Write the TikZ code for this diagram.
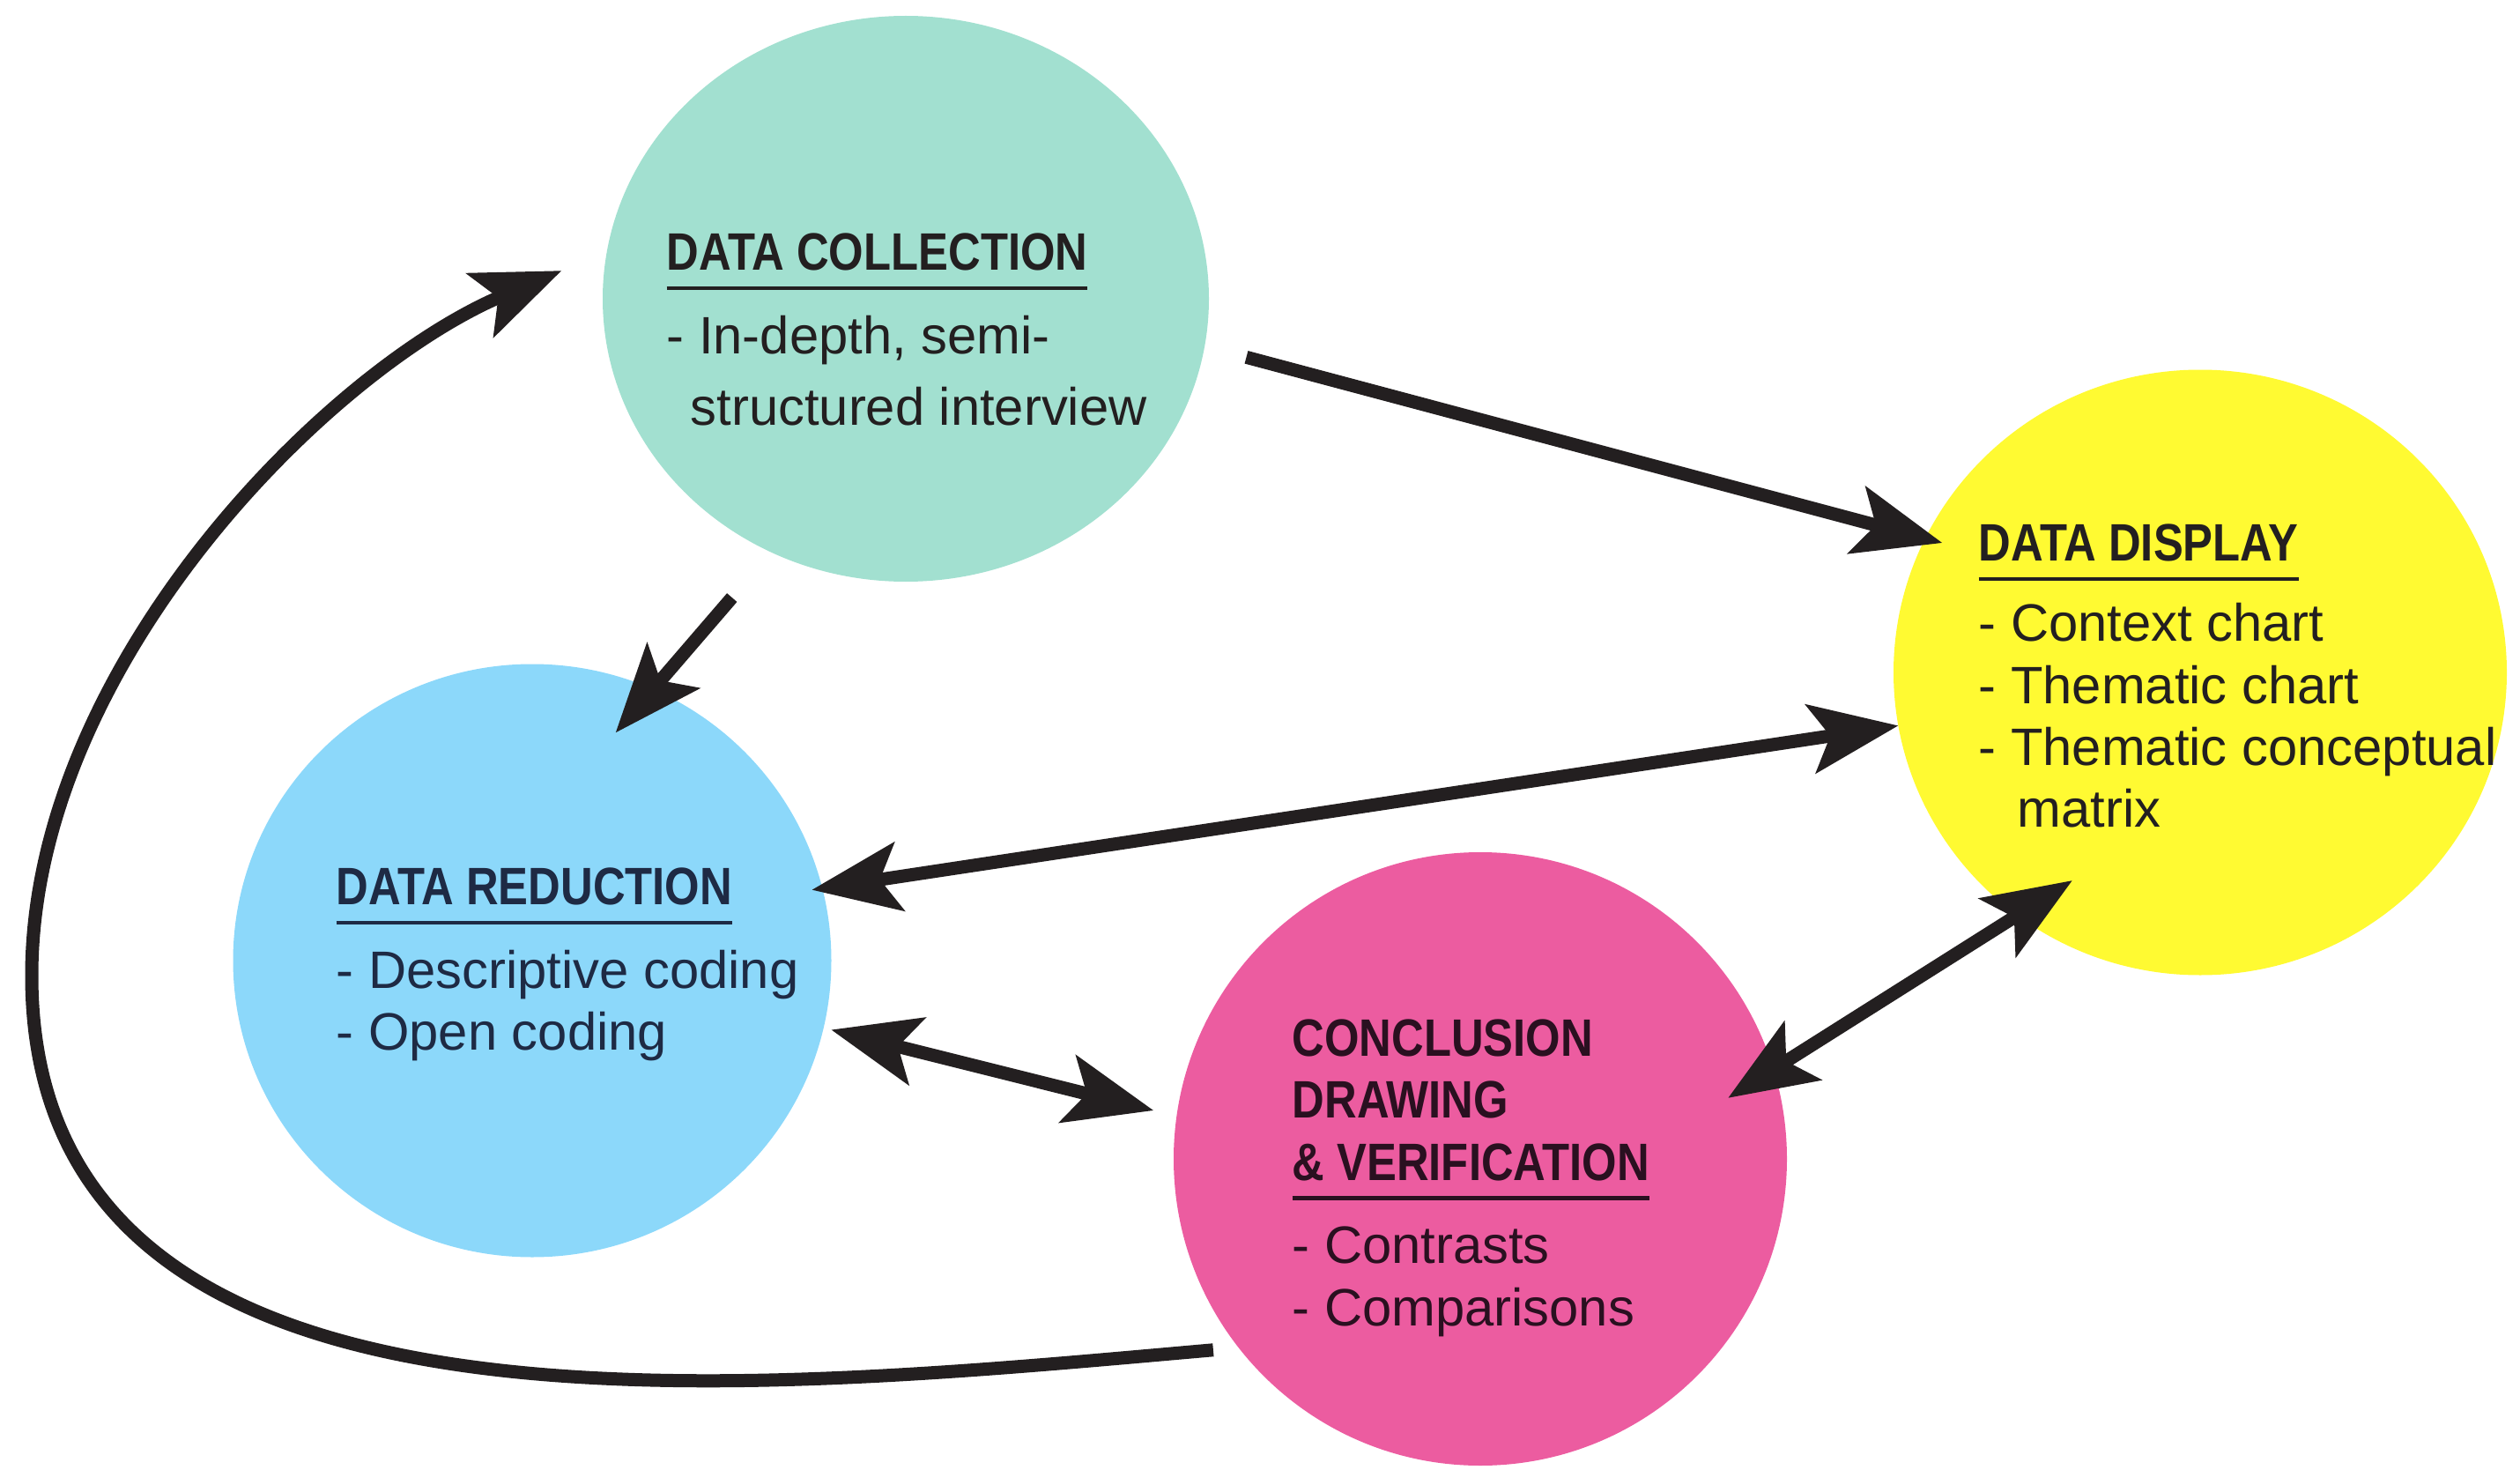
\documentclass[tikz,border=0pt]{standalone}
\usepackage{fontspec}
\setmainfont{Liberation Sans}
\newfontfamily\headfont{Liberation Sans}[FakeStretch=0.85]
\usepackage{xcolor}
\usepackage{tikz}
\usetikzlibrary{arrows.meta,shapes.geometric}

\definecolor{colfill}{HTML}{A2E0D0}
\definecolor{redfill}{HTML}{8CD8FA}
\definecolor{disfill}{HTML}{FFFA32}
\definecolor{confill}{HTML}{EC5CA0}
\definecolor{ink}{HTML}{231F20}
\definecolor{redink}{HTML}{1E2A44}
\definecolor{conink}{HTML}{2A1020}

\newsavebox{\headbox}
\newcommand{\phasetitle}[1]{{\headfont\bfseries #1}}
\newcommand{\phasehead}[1]{\sbox{\headbox}{\phasetitle{#1}}\rlap{\rule[-6.5pt]{\wd\headbox}{1.3pt}}\usebox{\headbox}}

\begin{document}
\begin{tikzpicture}[
  phase/.style={ellipse, inner sep=0pt, outer sep=0pt},
  phasetext/.style={anchor=north west, align=left, inner sep=0pt, font=\fontsize{17}{20}\selectfont},
  >={Stealth[length=1cm, width=0.78cm, inset=0.22cm]},
  arr/.style={->, line width=0.15cm, draw=ink},
  both/.style={<->, line width=0.15cm, draw=ink},
]
\useasboundingbox (0,0) rectangle (28.6,16.67);

% the four phases
\node[phase, fill=colfill, minimum width=6.88cm, minimum height=6.42cm] (col) at (10.28,13.28) {};
\node[phase, fill=redfill, minimum width=6.79cm, minimum height=6.73cm] (red) at (6.04,5.77) {};
\node[phase, fill=disfill, minimum width=6.96cm, minimum height=6.87cm] (dis) at (24.97,9.04) {};
\node[phase, fill=confill, minimum width=6.96cm, minimum height=6.96cm] (con) at (16.80,3.52) {};

% links between phases
\draw[arr, shorten <=0.49cm, shorten >=-0.2cm] (col.-9) -- (dis.154);
\draw[arr, shorten <=0.68cm, shorten >=-0.65cm] (col.242) -- (red.66);
\draw[both, shorten <=-0.12cm] (red.14) -- (dis.190);
\draw[both, shorten <=0.09cm, shorten >=0.27cm] (red.-13) -- (con.172);
\draw[both, shorten <=-0.61cm, shorten >=-0.74cm] (con.17) -- (dis.233);

% loop back to collection
\coordinate (swing) at (0.36,5.6);
\draw[arr, shorten <=0.29cm, shorten >=0.56cm] (con.218) to[out=185, in=270] (swing) to[out=90, in=203, looseness=0.85] (col.171);

% texts
\node[phasetext, text=ink] (coltext) at (7.56,14.03)
  {\phasehead{DATA COLLECTION}\\[7pt]
   - In-depth, semi-\\[3pt]
   \hspace*{0.27cm}structured interview};
\node[phasetext, text=redink] (redtext) at (3.81,6.83)
  {\phasehead{DATA REDUCTION}\\[7pt]
   - Descriptive coding\\
   - Open coding};
\node[phasetext, text=ink] (distext) at (22.45,10.73)
  {\phasehead{DATA DISPLAY}\\[6pt]
   - Context chart\\
   - Thematic chart\\
   - Thematic conceptual\\
   \hspace*{0.44cm}matrix};
\node[phasetext, text=conink] (context) at (14.66,5.11)
  {\phasetitle{CONCLUSION}\\
   \phasetitle{DRAWING}\\
   \phasehead{\& VERIFICATION}\\[7pt]
   - Contrasts\\
   - Comparisons};
\end{tikzpicture}
\end{document}
